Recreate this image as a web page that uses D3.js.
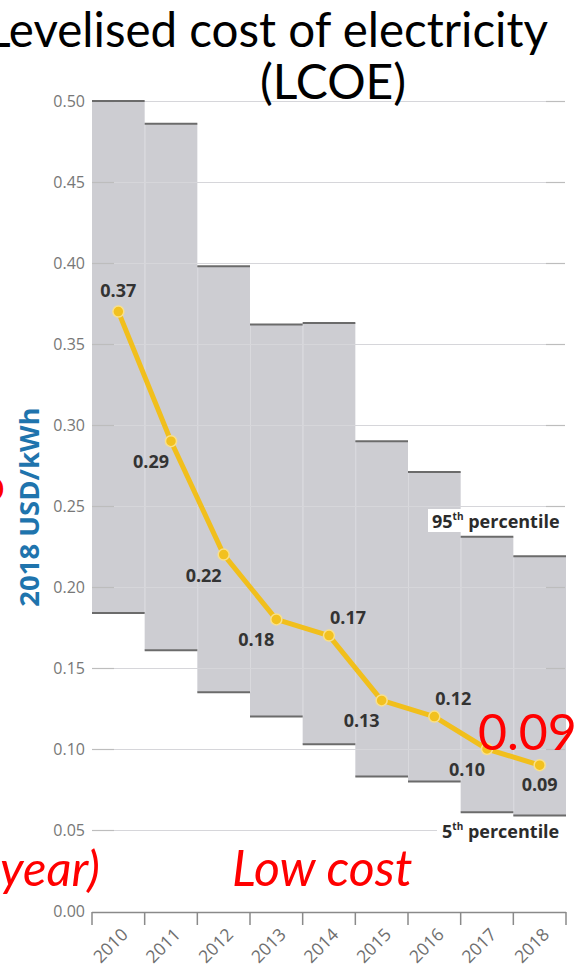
<!DOCTYPE html>
<html>
<head>
<meta charset="utf-8">
<script src="https://cdn.jsdelivr.net/npm/d3@7"></script>
<style>
  html, body { margin: 0; padding: 0; background: #fff; }
  svg { display: block; }
</style>
</head>
<body>
<svg id="chart" width="585" height="968"></svg>
<script>
// Utility-scale solar PV: levelised cost of electricity by year
const years = ["2010", "2011", "2012", "2013", "2014", "2015", "2016", "2017", "2018"];
// 95th and 5th percentile of project LCOE (2018 USD/kWh)
const p95 = [0.500, 0.486, 0.398, 0.362, 0.363, 0.290, 0.271, 0.231, 0.219];
const p5  = [0.184, 0.161, 0.135, 0.120, 0.103, 0.083, 0.080, 0.061, 0.059];
// Global weighted-average LCOE
const lcoe = [0.37, 0.29, 0.22, 0.18, 0.17, 0.13, 0.12, 0.10, 0.09];
// Where each value label sits relative to its point
const labelSide = ["above", "belowLeft", "belowLeft", "belowLeft", "aboveRight",
                   "belowLeft", "aboveRight", "belowLeft", "below"];
const yTicks = [0, 0.05, 0.10, 0.15, 0.20, 0.25, 0.30, 0.35, 0.40, 0.45, 0.50];

const svg = d3.select("#chart");
const plot = { left: 92, right: 566, top: 101, bottom: 911 };

const x = d3.scaleBand().domain(years).range([plot.left, plot.right]).padding(0);
const y = d3.scaleLinear().domain([0, 0.5]).range([plot.bottom, plot.top]);
const fmt = d3.format(".2f");

const bandFill = "#cdcdd2";
const edgeColor = "#6b6b6b";

// Percentile range bands
const bands = svg.append("g");
bands.selectAll("rect")
  .data(years)
  .join("rect")
  .attr("x", d => x(d))
  .attr("width", x.bandwidth())
  .attr("y", (d, i) => y(p95[i]))
  .attr("height", (d, i) => y(p5[i]) - y(p95[i]))
  .attr("fill", bandFill);

// faint separators between adjacent bands
bands.selectAll("line.sep")
  .data(years.slice(1))
  .join("line")
  .attr("class", "sep")
  .attr("x1", d => x(d) + 0.5).attr("x2", d => x(d) + 0.5)
  .attr("y1", (d, i) => y(Math.min(p95[i], p95[i + 1])))
  .attr("y2", (d, i) => y(Math.max(p5[i], p5[i + 1])))
  .attr("stroke", "#d9d9dd").attr("stroke-width", 1);

// Gridlines
const grid = svg.append("g");
yTicks.filter(t => t > 0).forEach(t => {
  const gy = Math.round(y(t)) + 0.5;
  grid.append("line")
    .attr("x1", plot.left).attr("x2", plot.right - 1)
    .attr("y1", gy).attr("y2", gy)
    .attr("stroke", "#d6d6da").attr("stroke-width", 1.2);
  grid.append("line")
    .attr("x1", plot.left).attr("x2", plot.left + 22)
    .attr("y1", gy).attr("y2", gy)
    .attr("stroke", "#bdbdbd").attr("stroke-width", 1.2);
  grid.append("line")
    .attr("x1", plot.right - 20).attr("x2", plot.right - 1)
    .attr("y1", gy).attr("y2", gy)
    .attr("stroke", "#bdbdbd").attr("stroke-width", 1.2);
});

// Percentile edges
const edges = svg.append("g");
edges.selectAll("line.top")
  .data(years)
  .join("line")
  .attr("class", "top")
  .attr("x1", d => x(d)).attr("x2", d => x(d) + x.bandwidth())
  .attr("y1", (d, i) => y(p95[i])).attr("y2", (d, i) => y(p95[i]))
  .attr("stroke", edgeColor).attr("stroke-width", 2);
edges.selectAll("line.bot")
  .data(years)
  .join("line")
  .attr("class", "bot")
  .attr("x1", d => x(d)).attr("x2", d => x(d) + x.bandwidth())
  .attr("y1", (d, i) => y(p5[i])).attr("y2", (d, i) => y(p5[i]))
  .attr("stroke", edgeColor).attr("stroke-width", 2);

// Y axis tick labels
svg.append("g")
  .selectAll("text")
  .data(yTicks)
  .join("text")
  .attr("x", 85)
  .attr("y", d => y(d))
  .attr("dy", "0.36em")
  .attr("text-anchor", "end")
  .attr("font-family", "'Open Sans', sans-serif")
  .attr("font-size", 16)
  .attr("fill", "#777")
  .text(d => fmt(d));

// X axis
const xAxis = svg.append("g");
xAxis.append("line")
  .attr("x1", plot.left).attr("x2", plot.right)
  .attr("y1", plot.bottom + 1.5).attr("y2", plot.bottom + 1.5)
  .attr("stroke", "#8a8a8a").attr("stroke-width", 1.5);
const tickPos = years.map(d => x(d)).concat([plot.right]);
xAxis.selectAll("line.tick")
  .data(tickPos)
  .join("line")
  .attr("class", "tick")
  .attr("x1", d => d).attr("x2", d => d)
  .attr("y1", plot.bottom + 1).attr("y2", plot.bottom + 14)
  .attr("stroke", "#8a8a8a").attr("stroke-width", 1.5);
xAxis.selectAll("text")
  .data(years)
  .join("text")
  .attr("transform", d => `translate(${x(d) + x.bandwidth() / 2 + 2},${plot.bottom + 16}) rotate(-45)`)
  .attr("text-anchor", "end")
  .attr("dy", "0.7em")
  .attr("font-family", "'Open Sans', sans-serif")
  .attr("font-size", 17.5)
  .attr("fill", "#6f6f6f")
  .text(d => d);

// Y axis title
svg.append("text")
  .attr("transform", "translate(39,507) rotate(-90)")
  .attr("text-anchor", "middle")
  .attr("font-family", "'Open Sans', sans-serif")
  .attr("font-weight", 700)
  .attr("font-size", 27.5)
  .attr("fill", "#1f74ad")
  .text("2018 USD/kWh");

// Percentile labels on white patches
function percentileLabel(num, yPos, xStart, boxLeft) {
  const g = svg.append("g");
  g.append("rect")
    .attr("x", boxLeft).attr("y", yPos - 12)
    .attr("width", plot.right + 2 - boxLeft).attr("height", 23)
    .attr("fill", "#fff");
  const t = g.append("text")
    .attr("x", xStart).attr("y", yPos + 7)
    .attr("font-family", "'Open Sans', sans-serif")
    .attr("font-weight", 700)
    .attr("font-size", 18)
    .attr("fill", "#2b2b2b");
  t.append("tspan").text(num);
  t.append("tspan").attr("dy", -8).attr("font-size", 10).text("th");
  t.append("tspan").attr("dy", 8).text(" percentile");
}
percentileLabel("95", 521, 432, 428);
percentileLabel("5", y(0.05) + 1, 442, 437);

// LCOE line
const cx = (d, i) => x(years[i]) + x.bandwidth() / 2;
const line = d3.line().x(cx).y(d => y(d));
svg.append("path")
  .datum(lcoe)
  .attr("d", line)
  .attr("fill", "none")
  .attr("stroke", "#f1bf1c")
  .attr("stroke-width", 5)
  .attr("stroke-linejoin", "round");
svg.append("g")
  .selectAll("circle")
  .data(lcoe)
  .join("circle")
  .attr("cx", cx)
  .attr("cy", d => y(d))
  .attr("r", 5.5)
  .attr("fill", "#f2c11f")
  .attr("stroke", "#f9e08a")
  .attr("stroke-width", 1.5);

// Value labels
const offsets = {
  above: [0, -15],
  below: [0, 26],
  belowLeft: [-20, 27],
  aboveRight: [19, -12]
};
svg.append("g")
  .selectAll("text")
  .data(lcoe)
  .join("text")
  .attr("x", (d, i) => cx(d, i) + offsets[labelSide[i]][0])
  .attr("y", (d, i) => y(d) + offsets[labelSide[i]][1])
  .attr("text-anchor", "middle")
  .attr("font-family", "'Open Sans', sans-serif")
  .attr("font-weight", 700)
  .attr("font-size", 18)
  .attr("fill", "#333")
  .text(d => fmt(d));

// Title
svg.append("text")
  .attr("x", 548).attr("y", 47)
  .attr("text-anchor", "end")
  .attr("font-family", "Lato, sans-serif")
  .attr("font-size", 47.5)
  .attr("fill", "#000")
  .text("Levelised cost of electricity");
svg.append("text")
  .attr("x", 333).attr("y", 99)
  .attr("text-anchor", "middle")
  .attr("font-family", "Lato, sans-serif")
  .attr("font-size", 48)
  .attr("fill", "#000")
  .text("(LCOE)");

// Red annotations
const red = "#ff0000";
svg.append("text")
  .attr("x", 478).attr("y", 750)
  .attr("font-family", "Lato, sans-serif")
  .attr("font-size", 50)
  .attr("fill", red)
  .text(fmt(lcoe[lcoe.length - 1]));
svg.append("text")
  .attr("x", 232).attr("y", 886)
  .attr("font-family", "Lato, sans-serif")
  .attr("font-style", "italic")
  .attr("font-size", 50)
  .attr("fill", red)
  .text("Low cost");
svg.append("text")
  .attr("x", 100).attr("y", 886)
  .attr("text-anchor", "end")
  .attr("font-family", "Lato, sans-serif")
  .attr("font-style", "italic")
  .attr("font-size", 49)
  .attr("fill", red)
  .text("year)");
svg.append("text")
  .attr("x", 5).attr("y", 501)
  .attr("text-anchor", "end")
  .attr("font-family", "Lato, sans-serif")
  .attr("font-size", 46)
  .attr("fill", red)
  .text("o");
</script>
</body>
</html>
